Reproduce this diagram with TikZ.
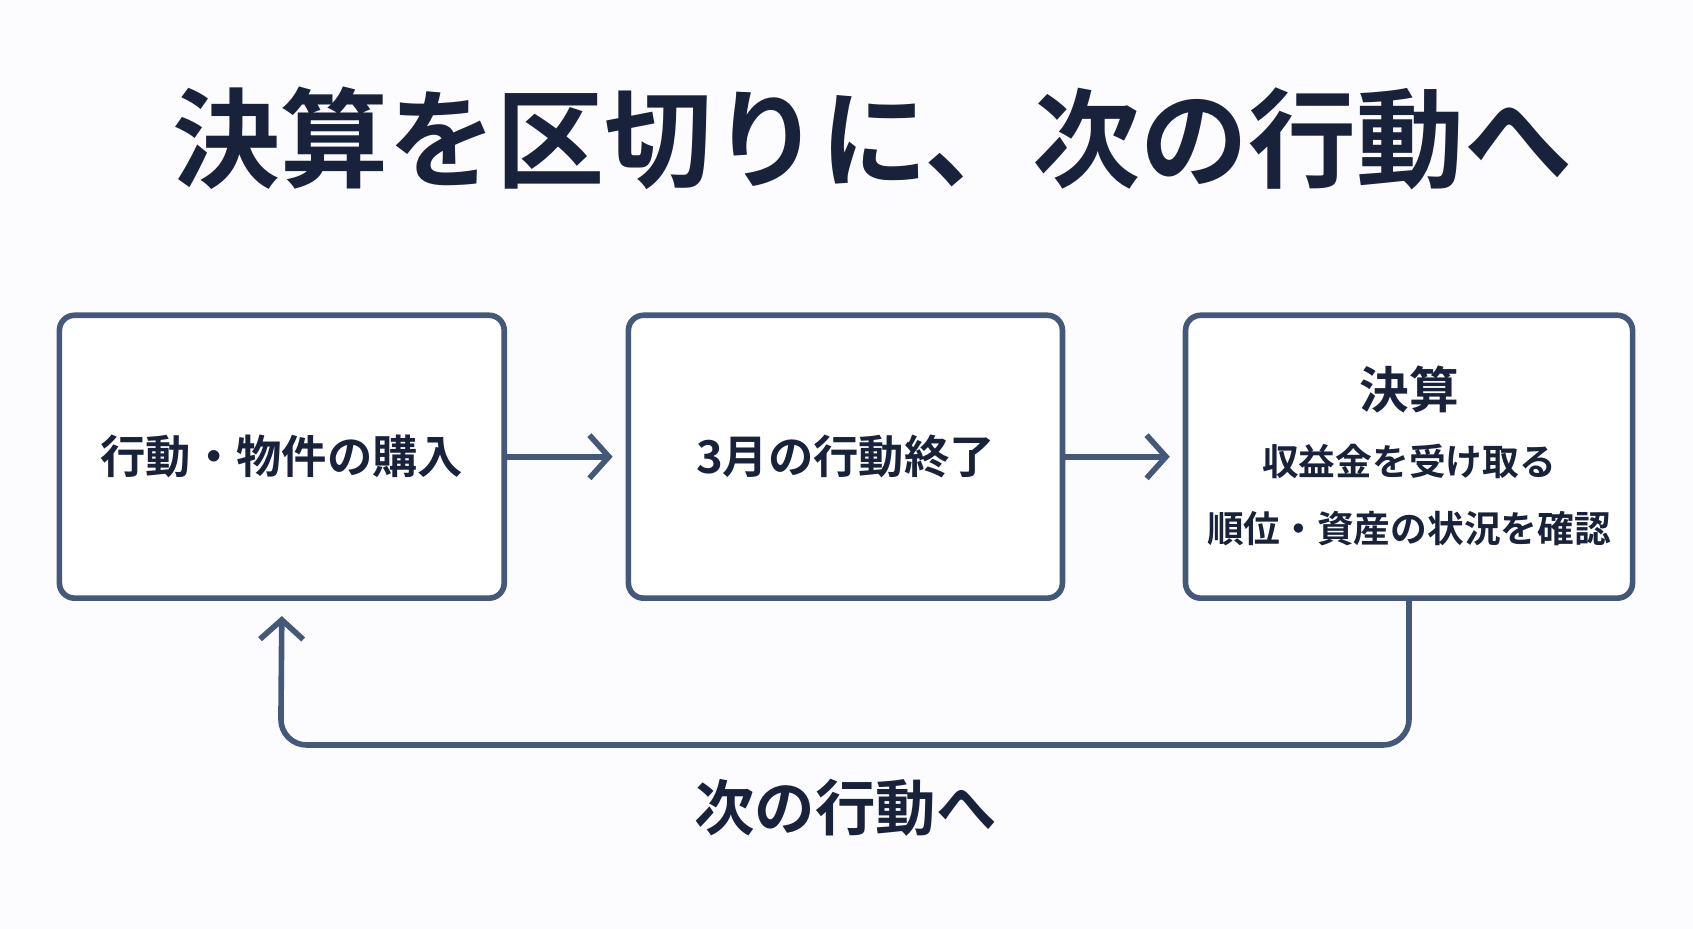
\documentclass[tikz,border=0pt]{standalone}
\usepackage{fontspec}
\setmainfont{Noto Sans CJK JP}[BoldFont={* Bold}]
\usetikzlibrary{arrows.meta}
\definecolor{ink}{HTML}{18223A}
\definecolor{line}{HTML}{44597A}
\begin{document}
\begin{tikzpicture}[x=0.5pt,y=-0.5pt,
  box/.style={draw=line,line width=2.6pt,rounded corners=7pt,fill=white,inner sep=0pt},
  conn/.style={draw=line,line width=2.6pt,-{Straight Barb[length=9pt,width=20pt,line width=2.6pt]}},
  txt/.style={text=ink,font=\bfseries,align=center}]
\fill[white!99!blue] (0,0) rectangle (1568,860);
\useasboundingbox (0,0) rectangle (1568,860);
\node[txt,font=\bfseries\fontsize{50}{58}\selectfont] (title) at (808,128) {決算を区切りに、次の行動へ};
\node[box,minimum width=206pt,minimum height=131pt] (b1) at (261,423) {};
\node[box,minimum width=201pt,minimum height=131pt] (b2) at (783,423) {};
\node[box,minimum width=207pt,minimum height=131pt] (b3) at (1305,423) {};
\node[txt,font=\bfseries\fontsize{21}{26}\selectfont] (t1) at (b1) {行動・物件の購入};
\node[txt,font=\bfseries\fontsize{21}{26}\selectfont] (t2) at (b2) {3月の行動終了};
\node[txt,font=\bfseries\fontsize{17}{31}\selectfont] (t3) at (1305,422) {{\fontsize{23}{31}\selectfont 決算}\\収益金を受け取る\\順位・資産の状況を確認};
\draw[conn] (b1.east) -- ([xshift=-6pt]b2.west);
\draw[conn] (b2.east) -- ([xshift=-6pt]b3.west);
\coordinate (c1) at (1305,690);
\coordinate (c2) at (260,690);
\draw[conn,rounded corners=12pt] (b3.south) -- (c1) -- (c2) -- ([yshift=-7pt]b1.south);
\node[txt,font=\bfseries\fontsize{28}{34}\selectfont] (lab) at (783,748) {次の行動へ};
\end{tikzpicture}
\end{document}
